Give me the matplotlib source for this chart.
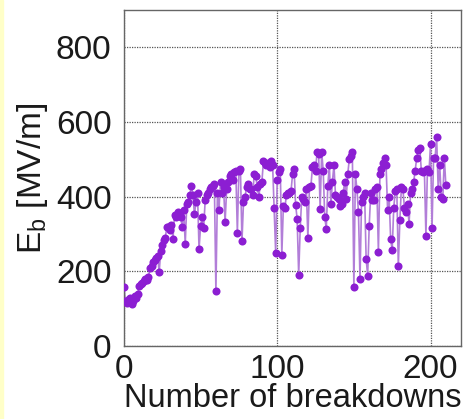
import matplotlib
matplotlib.use("Agg")
import matplotlib.pyplot as plt
from matplotlib.patches import Rectangle

# breakdown field per breakdown event
eb_values = [
    158, 120, 115, 125, 130, 112, 120, 135, 130, 140,
    160, 165, 170, 175, 180, 178, 185, 210, 215, 225,
    230, 235, 240, 198, 255, 270, 285, 290, 320, 320,
    310, 325, 288, 350, 345, 360, 355, 345, 320, 365,
    274, 380, 385, 405, 430, 405, 353, 385, 410, 260,
    321, 345, 315, 390, 405, 410, 420, 425, 430, 435,
    147, 410, 365, 440, 410, 425, 332, 420, 440, 455,
    460, 445, 465, 470, 303, 470, 475, 281, 385, 400,
    425, 435, 420, 420, 405, 460, 455, 425, 400, 435,
    440, 495, 490, 485, 490, 480, 495, 485, 369, 248,
    445, 465, 475, 244, 375, 370, 405, 410, 410, 415,
    460, 475, 378, 341, 191, 315, 400, 395, 385, 420,
    289, 425, 430, 480, 485, 470, 520, 515, 368, 520,
    470, 346, 314, 430, 485, 380, 440, 485, 405, 400,
    395, 375, 380, 410, 440, 395, 460, 500, 510, 520,
    158, 460, 420, 358, 179, 385, 400, 410, 234, 189,
    322, 410, 390, 390, 420, 425, 253, 460, 475, 490,
    505, 485, 365, 400, 286, 257, 370, 415, 420, 214,
    337, 425, 420, 370, 360, 380, 328, 410, 420, 440,
    470, 505, 525, 530, 470, 465, 470, 296, 475, 465,
    540, 317, 505, 505, 560, 420, 485, 400, 395, 505,
    431,
]
n_breakdowns = list(range(len(eb_values)))

plt.rcParams["font.family"] = ["Liberation Sans", "DejaVu Sans"]
plt.rcParams["mathtext.default"] = "regular"

fig = plt.figure(figsize=(4.73, 4.19), dpi=100)
fig.patches.append(Rectangle((0, 0), 0.006, 1, transform=fig.transFigure,
                             color="#FFFFC8", zorder=0))
ax = fig.add_axes([0.262, 0.174, 0.713, 0.802])

ax.plot(n_breakdowns, eb_values, color="#B27ED8", linewidth=1.2, zorder=2)
ax.plot(n_breakdowns, eb_values, linestyle="none", marker="o", markersize=5.8,
        color="#8C1ED2", markeredgewidth=0, zorder=3)

ax.set_xlim(0, 220)
ax.set_ylim(0, 900)
ax.set_xticks([0, 100, 200])
ax.set_yticks([0, 200, 400, 600, 800])
ax.grid(True, color="#555555", linestyle=(0, (1, 1)), linewidth=0.9)
ax.set_axisbelow(True)
ax.tick_params(axis="y", length=0, labelsize=24, pad=9, colors="#1a1a1a")
ax.tick_params(axis="x", length=0, labelsize=24, pad=6, colors="#1a1a1a")
for sp in ax.spines.values():
    sp.set_color("#666666")
    sp.set_linewidth(1.0)

ax.set_xlabel("Number of breakdowns", fontsize=23.5, labelpad=-2, color="#1a1a1a")
ax.set_ylabel("E$_b$ [MV/m]", fontsize=24, labelpad=4, color="#1a1a1a")

plt.savefig("out.png", dpi=100)
